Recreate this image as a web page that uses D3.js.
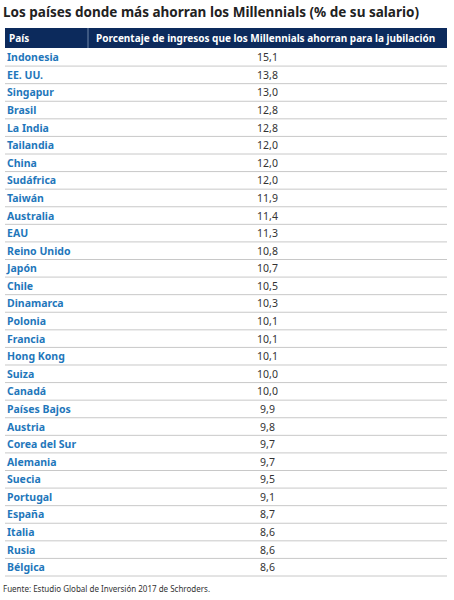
<!DOCTYPE html>
<html><head><meta charset="utf-8">
<script src="https://cdn.jsdelivr.net/npm/d3@7"></script>
<style>body{margin:0;background:#fff}</style>
</head><body><svg id="chart"></svg>
<script>
const countries = ['Indonesia','EE. UU.','Singapur','Brasil','La India','Tailandia','China','Sudáfrica','Taiwán','Australia','EAU','Reino Unido','Japón','Chile','Dinamarca','Polonia','Francia','Hong Kong','Suiza','Canadá','Países Bajos','Austria','Corea del Sur','Alemania','Suecia','Portugal','España','Italia','Rusia','Bélgica'];
const values = [15.1,13.8,13.0,12.8,12.8,12.0,12.0,12.0,11.9,11.4,11.3,10.8,10.7,10.5,10.3,10.1,10.1,10.1,10.0,10.0,9.9,9.8,9.7,9.7,9.5,9.1,8.7,8.6,8.6,8.6];
const headers = ['País','Porcentaje de ingresos que los Millennials ahorran para la jubilación'];

const W = 454, H = 600, left = 5, right = 447, divX = 88;
const svg = d3.select('#chart').attr('width', W).attr('height', H)
  .style('font-family', '"Noto Sans", "Open Sans", sans-serif');

svg.append('text').attr('x', 3).attr('y', 17)
  .style('font-size', '13.5px').style('font-weight', 'bold').style('fill', '#222')
  .text('Los países donde más ahorran los Millennials (% de su salario)');

// header band
svg.append('rect').attr('x', left).attr('y', 28).attr('width', right - left).attr('height', 20).attr('fill', '#0c2a5c');
svg.append('line').attr('x1', divX).attr('x2', divX).attr('y1', 28).attr('y2', 48).attr('stroke', '#6f86a8');
svg.append('text').attr('x', 9).attr('y', 42).style('font-size', '10px').style('font-weight', 'bold').style('fill', '#fff').text(headers[0]);
svg.append('text').attr('x', 96).attr('y', 42).style('font-size', '10px').style('font-weight', 'bold').style('fill', '#fff').text(headers[1]);

const y = d3.scaleBand().domain(countries).range([48.5, 576]);
const rows = svg.selectAll('g.row').data(countries).join('g').attr('class', 'row')
  .attr('transform', d => `translate(0,${y(d)})`);
rows.append('line').attr('x1', left).attr('x2', right)
  .attr('y1', y.bandwidth()).attr('y2', y.bandwidth()).attr('stroke', '#c8c8c8');
rows.append('text').attr('x', 7).attr('y', y.bandwidth() / 2 + 4)
  .style('font-size', '10.5px').style('font-weight', 'bold').style('fill', '#1f77bb').text(d => d);
rows.append('text').attr('x', (divX + right) / 2).attr('y', y.bandwidth() / 2 + 4)
  .attr('text-anchor', 'middle').style('font-size', '10.5px').style('fill', '#333')
  .text((d, i) => values[i].toFixed(1).replace('.', ','));

svg.append('text').attr('x', 3).attr('y', 592).style('font-size', '8px').style('fill', '#333')
  .text('Fuente: Estudio Global de Inversión 2017 de Schroders.');
</script></body></html>
